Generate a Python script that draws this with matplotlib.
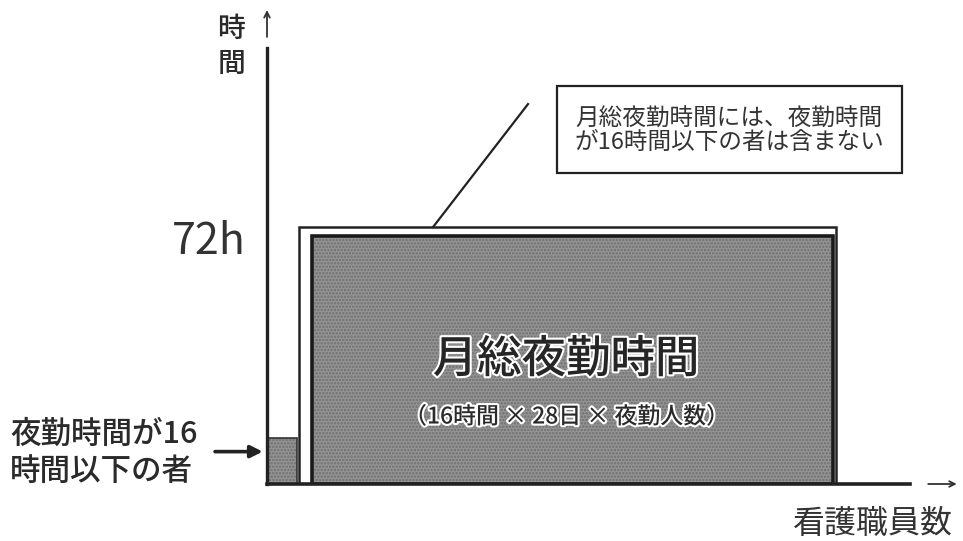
import matplotlib
matplotlib.use("Agg")
import matplotlib.pyplot as plt
import matplotlib.patches as patches
import matplotlib.patheffects as pe

plt.rcParams['font.family'] = ['Noto Sans CJK JP', 'DejaVu Sans']
plt.rcParams['font.weight'] = 'medium'
plt.rcParams['hatch.linewidth'] = 1.2

# data (staff count on x in arbitrary units, hours on y)
bar_names = ["夜勤時間が16時間以下の者", "月総夜勤時間"]
bar_left = [0.0, 3.0]
bar_width = [2.0, 34.7]
bar_hours = [13.5, 72]
ref_hours = 72
ref_label = "72h"

main_title = "月総夜勤時間"
main_sub = "（16時間 × 28日 × 夜勤人数）"
note_text = "月総夜勤時間には、夜勤時間\nが16時間以下の者は含まない"
left_text = "夜勤時間が16\n時間以下の者"
y_label = "時\n間"
x_label = "看護職員数"

W, H = 963, 541
fig = plt.figure(figsize=(W / 100, H / 100), dpi=100)

def px(x, y):
    # pixel position (from top-left) -> figure fraction
    return x / W, 1 - y / H

# origin of the drawing at pixel (267, 484)
ox, oy = 267, 484
ax = fig.add_axes([ox / W, (H - oy) / H, (W - ox) / W, oy / H])
ax.set_xlim(0, (W - ox) / 15)
ax.set_ylim(0, oy * ref_hours / 248)
ax.axis('off')

# white frame behind the big bar
top_frame = ref_hours * 1.036
ax.add_patch(patches.Rectangle((bar_left[0] + bar_width[0] + 0.1, -0.8),
                               bar_left[1] + bar_width[1] - bar_width[0] + 0.1, top_frame + 0.8,
                               facecolor='white', edgecolor='#222222', lw=1.8, zorder=2))

# filled bars (stippled grey)
ax.bar(bar_left, bar_hours, width=bar_width, align='edge', color='#959595',
       hatch='.....', edgecolor='#6e6e6e', linewidth=0, zorder=3)
ax.bar(bar_left[:1], bar_hours[:1], width=bar_width[:1], align='edge', fill=False,
       edgecolor='#333333', linewidth=1.2, zorder=4)
ax.bar(bar_left[1:], bar_hours[1:], width=bar_width[1:], align='edge', fill=False,
       edgecolor='#1a1a1a', linewidth=2.6, zorder=4)

# axes lines
ytop = ax.get_ylim()[1]
xright = ax.get_xlim()[1]
ax.plot([0, 0], [0, ytop * 0.9], color='#222222', lw=2.4, clip_on=False, zorder=5)
ax.plot([0, xright * 0.924], [0, 0], color='#222222', lw=2.6, clip_on=False, zorder=5)
ax.annotate('', xy=(0, ytop * 0.985), xytext=(0, ytop * 0.918),
            arrowprops=dict(arrowstyle='->', color='#333333', lw=1.3), annotation_clip=False)
ax.annotate('', xy=(xright * 0.995, 0), xytext=(xright * 0.946, 0),
            arrowprops=dict(arrowstyle='->', color='#333333', lw=1.3), annotation_clip=False)

# 72h label
ax.text(-1.4, ref_hours - 1.8, ref_label, ha='right', va='center', fontsize=31,
        color='#333333', fontweight='normal', clip_on=False)

# text in the big bar
cx = bar_left[1] + bar_width[1] / 2 - 0.4
stroke = [pe.withStroke(linewidth=3, foreground='white')]
ax.text(cx, ref_hours * 0.5, main_title, ha='center', va='center', fontsize=32,
        color='#262626', zorder=6, path_effects=stroke)
ax.text(cx, ref_hours * 0.27, main_sub, ha='center', va='center', fontsize=16.5,
        color='#2a2a2a', zorder=6, path_effects=stroke)

# callout line and box
ax.plot([11.07, 17.4], [top_frame, 110.3], color='#222222', lw=1.6, clip_on=False)
x0, y0 = px(557, 173)
x1, y1 = px(902, 86)
fig.patches.append(patches.Rectangle((x0, y0), x1 - x0, y1 - y0, transform=fig.transFigure,
                                     facecolor='white', edgecolor='#222222', lw=1.6))
fig.text(*px(729, 131), note_text, ha='center', va='center', fontsize=17,
         color='#333333', fontweight='normal', linespacing=1.05)

# axis labels
fig.text(*px(231, 46), y_label, ha='center', va='center', fontsize=20,
         color='#2a2a2a', linespacing=1.25)
fig.text(*px(873, 524), x_label, ha='center', va='center', fontsize=23,
         color='#333333', fontweight='normal')

# left label and arrow
fig.text(*px(10, 453), left_text, ha='left', va='center', fontsize=22,
         color='#2a2a2a', linespacing=1.25)
ax.annotate('', xy=(-0.1, 9.4), xytext=(-3.65, 9.4),
            arrowprops=dict(arrowstyle='-|>', color='#222222', lw=2.6, mutation_scale=18),
            annotation_clip=False)

fig.savefig('out.png', dpi=100, facecolor='white')
